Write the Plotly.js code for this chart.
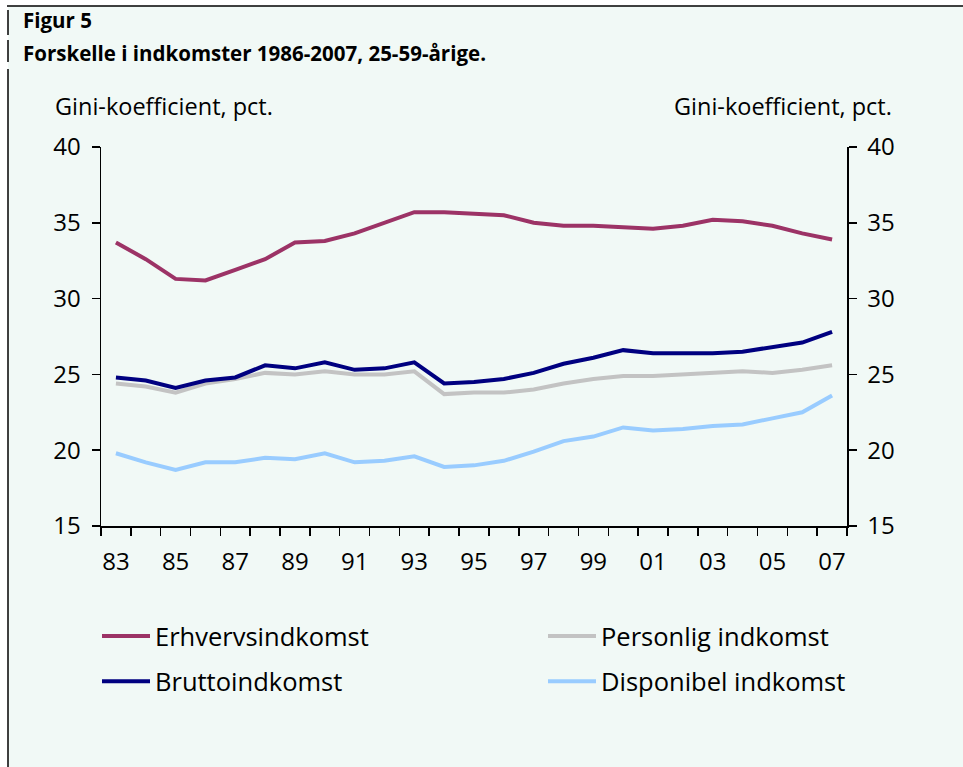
<!DOCTYPE html>
<html>
<head>
<meta charset="utf-8">
<script src="https://cdn.plot.ly/plotly-3.0.1.min.js"></script>
<style>html,body{margin:0;padding:0;background:#fff;}#chart{width:963px;height:767px;}</style>
</head>
<body>
<div id="chart"></div>
<script>
// ---- data ----
var years = ['83','84','85','86','87','88','89','90','91','92','93','94','95','96','97','98','99','00','01','02','03','04','05','06','07'];
var yearLabels = ['83','','85','','87','','89','','91','','93','','95','','97','','99','','01','','03','','05','','07'];
var erhverv = [33.7,32.6,31.3,31.2,31.9,32.6,33.7,33.8,34.3,35.0,35.7,35.7,35.6,35.5,35.0,34.8,34.8,34.7,34.6,34.8,35.2,35.1,34.8,34.3,33.9];
var personlig = [24.4,24.2,23.8,24.4,24.7,25.1,25.0,25.2,25.0,25.0,25.2,23.7,23.8,23.8,24.0,24.4,24.7,24.9,24.9,25.0,25.1,25.2,25.1,25.3,25.6];
var brutto = [24.8,24.6,24.1,24.6,24.8,25.6,25.4,25.8,25.3,25.4,25.8,24.4,24.5,24.7,25.1,25.7,26.1,26.6,26.4,26.4,26.4,26.5,26.8,27.1,27.8];
var disponibel = [19.8,19.2,18.7,19.2,19.2,19.5,19.4,19.8,19.2,19.3,19.6,18.9,19.0,19.3,19.9,20.6,20.9,21.5,21.3,21.4,21.6,21.7,22.1,22.5,23.6];
var seriesNames = ['Erhvervsindkomst','Personlig indkomst','Bruttoindkomst','Disponibel indkomst'];
var yTicks = [15,20,25,30,35,40];

// ---- geometry helpers (pixel -> paper) ----
var W = 963, H = 767;
var M = {l:101, r:116, t:147, b:241};
var PW = W - M.l - M.r, PH = H - M.t - M.b;
function px(x){ return (x - M.l) / PW; }
function py(y){ return (H - M.b - y) / PH; }

var FONT = '"Open Sans", "Noto Sans", sans-serif';
var BG = '#f1f9f6';

var traces = [
  {x: years, y: erhverv, name: seriesNames[0], line:{color:'#9c3366', width:4}, legend:'legend', legendgroup:'a'},
  {x: years, y: personlig, name: seriesNames[1], line:{color:'#c3c3c3', width:4}, legend:'legend2', legendgroup:'b'},
  {x: years, y: brutto, name: seriesNames[2], line:{color:'#000080', width:4}, legend:'legend', legendgroup:'c'},
  {x: years, y: disponibel, name: seriesNames[3], line:{color:'#99ccff', width:4}, legend:'legend2', legendgroup:'d', yaxis:'y2'}
];
traces.forEach(function(t){ t.type='scatter'; t.mode='lines'; t.hoverinfo='skip'; });

var axFont = {family: FONT, size: 24, color:'#000'};
var yCommon = {
  range:[15,40], tickmode:'array', tickvals: yTicks, ticks:'outside', ticklen:8, tickwidth:1.5, tickcolor:'#000',
  showline:true, linecolor:'#000', linewidth:1.5, showgrid:false, zeroline:false, tickfont: axFont,
  ticklabelstandoff: 6, fixedrange:true
};

var legFont = {family:FONT, size:25.5, color:'#000'};
var layout = {
  width: W, height: H,
  margin: M,
  paper_bgcolor: BG,
  plot_bgcolor: 'rgba(0,0,0,0)',
  showlegend: true,
  xaxis: {
    type:'category', range:[-0.5, 24.5], tickmode:'array', tickvals: years, ticktext: yearLabels,
    tickson:'boundaries', ticks:'outside', ticklen:8, tickwidth:1.5, tickcolor:'#000', tickangle:0,
    showline:true, linecolor:'#000', linewidth:1.5, showgrid:false, zeroline:false,
    tickfont: axFont, ticklabelstandoff: 14, fixedrange:true
  },
  yaxis: Object.assign({}, yCommon, {side:'left'}),
  yaxis2: Object.assign({}, yCommon, {side:'right', overlaying:'y'}),
  legend: {
    x: px(97), y: py(613), xanchor:'left', yanchor:'top', bgcolor:'rgba(0,0,0,0)',
    font: legFont, traceorder:'grouped', tracegroupgap: 9, itemwidth: 48
  },
  legend2: {
    x: px(543), y: py(613), xanchor:'left', yanchor:'top', bgcolor:'rgba(0,0,0,0)',
    font: legFont, traceorder:'grouped', tracegroupgap: 9, itemwidth: 48
  },
  annotations: [
    {text:'<b>Figur 5</b>', xref:'paper', yref:'paper', x:px(21), y:py(20), xanchor:'left', yanchor:'middle', showarrow:false,
     font:{family:FONT, size:20.5, color:'#000'}},
    {text:'<b>Forskelle i indkomster 1986-2007, 25-59-årige.</b>', xref:'paper', yref:'paper', x:px(21), y:py(53), xanchor:'left', yanchor:'middle', showarrow:false,
     font:{family:FONT, size:20.5, color:'#000'}},
    {text:'Gini-koefficient, pct.', xref:'paper', yref:'paper', x:px(53), y:py(106), xanchor:'left', yanchor:'middle', showarrow:false,
     font:{family:FONT, size:23.5, color:'#000'}},
    {text:'Gini-koefficient, pct.', xref:'paper', yref:'paper', x:px(894), y:py(106), xanchor:'right', yanchor:'middle', showarrow:false,
     font:{family:FONT, size:23.5, color:'#000'}}
  ],
  shapes: [
    {type:'rect', xref:'paper', yref:'paper', x0:px(0), x1:px(8), y0:py(H), y1:py(0), fillcolor:'#fff', line:{width:0}, layer:'below'},
    {type:'rect', xref:'paper', yref:'paper', x0:px(0), x1:px(W), y0:py(6), y1:py(0), fillcolor:'#fff', line:{width:0}, layer:'below'},
    {type:'line', xref:'paper', yref:'paper', x0:px(7), x1:px(W), y0:py(6), y1:py(6), line:{color:'#000', width:1.5}},
    {type:'line', xref:'paper', yref:'paper', x0:px(8), x1:px(8), y0:py(10), y1:py(35), line:{color:'#000', width:1.5}},
    {type:'line', xref:'paper', yref:'paper', x0:px(8), x1:px(8), y0:py(40), y1:py(62), line:{color:'#000', width:1.5}},
    {type:'line', xref:'paper', yref:'paper', x0:px(8), x1:px(8), y0:py(69), y1:py(H), line:{color:'#000', width:1.5}}
  ]
};

Plotly.newPlot('chart', traces, layout, {displayModeBar:false, staticPlot:true});
</script>
</body>
</html>
